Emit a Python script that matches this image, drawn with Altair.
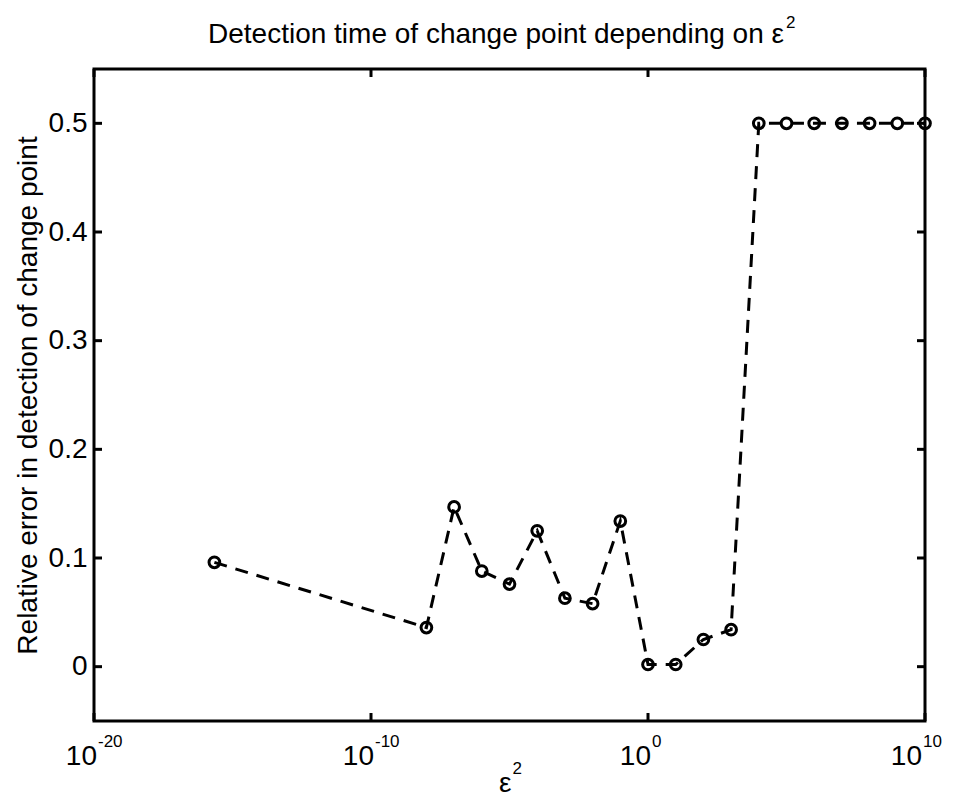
import altair as alt
import pandas as pd

# ---- data ----
eps2 = [2.22e-16, 1e-8, 1e-7, 1e-6, 1e-5, 1e-4, 1e-3, 1e-2, 1e-1, 1e0,
        1e1, 1e2, 1e3, 1e4, 1e5, 1e6, 1e7, 1e8, 1e9, 1e10]
rel_err = [0.096, 0.036, 0.147, 0.088, 0.076, 0.125, 0.063, 0.058, 0.134, 0.002,
           0.002, 0.025, 0.034, 0.5, 0.5, 0.5, 0.5, 0.5, 0.5, 0.5]
x_ticks = [1e-20, 1e-10, 1e0, 1e10]
x_tick_base = ["10", "10", "10", "10"]
x_tick_exp = ["-20", "-10", "0", "10"]
y_ticks = [0, 0.1, 0.2, 0.3, 0.4, 0.5]

title_main = "Detection time of change point depending on ε"
title_sup = "2"
x_title_main = "ε"
x_title_sup = "2"
y_title = "Relative error in detection of change point"

FONT = "Liberation Sans, Arial, Helvetica, sans-serif"
FS = 28      # main font size
FS_SUP = 17  # superscript font size
W, H = 831, 652
TL = 8  # inward tick length

df = pd.DataFrame({"eps2": eps2, "err": rel_err})
xt = pd.DataFrame({"t": x_ticks, "b": x_tick_base, "e": x_tick_exp})
yt = pd.DataFrame({"t": y_ticks})

xscale = alt.Scale(type="log", domain=[1e-20, 1e10], nice=False)
yscale = alt.Scale(domain=[-0.05, 0.55], nice=False, zero=False)

base = alt.Chart(df)

line = base.mark_line(color="black", strokeWidth=3, strokeDash=[13, 9]).encode(
    x=alt.X("eps2:Q", scale=xscale, axis=None),
    y=alt.Y("err:Q", scale=yscale,
            axis=alt.Axis(values=y_ticks, format=".1~f", title=y_title, ticks=False,
                          domain=False, grid=False, labelFontSize=FS, labelFont=FONT,
                          labelColor="black", labelPadding=7,
                          titleFontSize=FS, titleFont=FONT, titleFontWeight="normal",
                          titleColor="black", titleBaseline="alphabetic", titleX=-58)),
)

pts = base.mark_point(shape="circle", filled=False, size=115, strokeWidth=3,
                      color="black", opacity=1).encode(
    x=alt.X("eps2:Q", scale=xscale),
    y=alt.Y("err:Q", scale=yscale),
)

tick_style = dict(color="black", strokeWidth=3)
xt_bot = alt.Chart(xt).mark_rule(**tick_style).encode(
    x=alt.X("t:Q", scale=xscale), y=alt.value(H), y2=alt.value(H - TL))
xt_top = alt.Chart(xt).mark_rule(**tick_style).encode(
    x=alt.X("t:Q", scale=xscale), y=alt.value(0), y2=alt.value(TL))
yt_left = alt.Chart(yt).mark_rule(**tick_style).encode(
    y=alt.Y("t:Q", scale=yscale), x=alt.value(0), x2=alt.value(TL))
yt_right = alt.Chart(yt).mark_rule(**tick_style).encode(
    y=alt.Y("t:Q", scale=yscale), x=alt.value(W), x2=alt.value(W - TL))

# x tick labels: "10" plus a raised exponent
last_tick = max(x_ticks)


def tick_labels(filter_expr, dx_base):
    src = alt.Chart(xt).transform_filter(filter_expr)
    b = src.mark_text(font=FONT, fontSize=FS, align="right", baseline="alphabetic",
                      dx=dx_base, color="black").encode(
        x=alt.X("t:Q", scale=xscale), y=alt.value(H + 44), text="b:N")
    e = src.mark_text(font=FONT, fontSize=FS_SUP, align="left", baseline="alphabetic",
                      dx=dx_base + 1, color="black").encode(
        x=alt.X("t:Q", scale=xscale), y=alt.value(H + 26), text="e:N")
    return [b, e]


labels_inner = tick_labels(f"datum.t < {last_tick}", 3)
labels_last = tick_labels(f"datum.t >= {last_tick}", -3)

# x axis title
xtitle_df = pd.DataFrame({"m": [x_title_main], "s": [x_title_sup]})
xtit_m = alt.Chart(xtitle_df).mark_text(font=FONT, fontSize=FS, align="right",
                                        baseline="alphabetic", color="black").encode(
    x=alt.value(W / 2 + 2), y=alt.value(H + 71), text="m:N")
xtit_s = alt.Chart(xtitle_df).mark_text(font=FONT, fontSize=FS_SUP, align="left",
                                        baseline="alphabetic", color="black").encode(
    x=alt.value(W / 2 + 3), y=alt.value(H + 53), text="s:N")

# chart title
title_df = pd.DataFrame({"m": [title_main], "s": [title_sup]})
tit_m = alt.Chart(title_df).mark_text(font=FONT, fontSize=FS, align="right",
                                      baseline="alphabetic", color="black").encode(
    x=alt.value(690), y=alt.value(-26), text="m:N")
tit_s = alt.Chart(title_df).mark_text(font=FONT, fontSize=FS_SUP, align="left",
                                      baseline="alphabetic", color="black").encode(
    x=alt.value(692), y=alt.value(-41), text="s:N")

chart = alt.layer(line, pts, xt_bot, xt_top, yt_left, yt_right,
                  *labels_inner, *labels_last, xtit_m, xtit_s, tit_m, tit_s).properties(
    width=W, height=H,
    background="white",
    autosize=alt.AutoSizeParams(type="none"),
    padding={"left": 86, "top": 61, "right": 21, "bottom": 76},
).configure_view(stroke="black", strokeWidth=3)

chart.save("out.html", embed_options={"renderer": "svg", "actions": False})
